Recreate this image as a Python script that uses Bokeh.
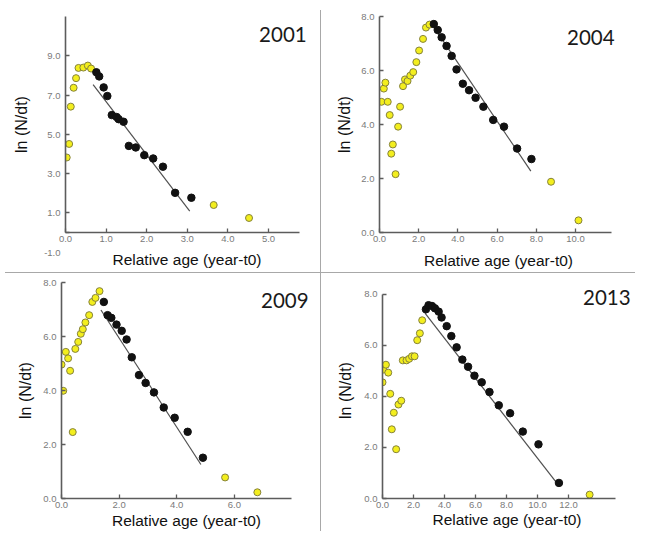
from bokeh.plotting import figure
from bokeh.models import Range1d, FixedTicker, PrintfTickFormatter, Label, Div
from bokeh.layouts import row, column
from bokeh.embed import file_html
from bokeh.resources import INLINE

# ---------------- data ----------------
# 2001
y01_x = [0.03, 0.09, 0.13, 0.20, 0.26, 0.32, 0.44, 0.55, 0.63, 3.65, 4.52]
y01_y = [3.82, 4.51, 6.41, 7.37, 7.86, 8.38, 8.40, 8.50, 8.35, 1.40, 0.74]
b01_x = [0.76, 0.83, 0.94, 1.03, 1.14, 1.26, 1.31, 1.43, 1.56, 1.73, 1.94, 2.16, 2.40, 2.70, 3.10]
b01_y = [8.16, 7.95, 7.39, 6.95, 5.98, 5.88, 5.77, 5.64, 4.41, 4.33, 3.94, 3.77, 3.35, 2.02, 1.77]
f01_x = [0.68, 3.06]
f01_y = [7.53, 1.09]

# 2004
y04_x = [0.10, 0.22, 0.30, 0.42, 0.52, 0.60, 0.68, 0.82, 0.95, 1.05, 1.20, 1.30, 1.43, 1.57,
         1.72, 1.88, 2.02, 2.22, 2.37, 2.55, 8.75, 10.15]
y04_y = [4.84, 5.33, 5.55, 4.84, 4.35, 2.92, 3.26, 2.16, 3.92, 4.66, 5.42, 5.67, 5.61, 5.81,
         5.94, 6.31, 6.74, 7.17, 7.59, 7.70, 1.88, 0.45]
b04_x = [2.77, 2.97, 3.17, 3.42, 3.68, 3.93, 4.25, 4.57, 4.90, 5.30, 5.80, 6.35, 7.02, 7.75]
b04_y = [7.72, 7.50, 7.23, 6.91, 6.54, 6.04, 5.51, 5.27, 4.99, 4.66, 4.17, 3.92, 3.11, 2.72]
f04_x = [2.72, 7.72]
f04_y = [7.66, 2.27]

# 2009
y09_x = [0.00, 0.06, 0.15, 0.23, 0.30, 0.39, 0.48, 0.58, 0.67, 0.74, 0.83, 0.96, 1.07, 1.18, 1.32,
         5.68, 6.80]
y09_y = [4.96, 3.99, 5.43, 5.19, 4.73, 2.46, 5.54, 5.80, 6.10, 6.27, 6.52, 6.79, 7.28, 7.43, 7.68,
         0.78, 0.23]
b09_x = [1.47, 1.60, 1.73, 1.91, 2.09, 2.26, 2.44, 2.69, 2.92, 3.21, 3.55, 3.93, 4.38, 4.91]
b09_y = [7.28, 6.79, 6.69, 6.44, 6.21, 5.89, 5.23, 4.57, 4.28, 3.93, 3.37, 2.99, 2.47, 1.51]
f09_x = [1.37, 4.84]
f09_y = [6.98, 1.26]

# 2013
y13_x = [0.00, 0.06, 0.22, 0.37, 0.50, 0.60, 0.73, 0.88, 1.03, 1.21, 1.31, 1.55, 1.72, 1.90,
         2.07, 2.24, 2.41, 2.56, 13.36]
y13_y = [4.55, 5.05, 5.24, 4.93, 4.10, 2.71, 3.36, 1.93, 3.68, 3.83, 5.41, 5.41, 5.47, 5.57,
         5.57, 6.20, 6.47, 6.98, 0.15]
b13_x = [2.80, 2.97, 3.19, 3.38, 3.62, 3.81, 4.14, 4.44, 4.78, 5.15, 5.52, 5.93, 6.40, 6.90,
         7.50, 8.23, 9.05, 10.06, 11.38]
b13_y = [7.41, 7.57, 7.54, 7.45, 7.32, 7.09, 6.75, 6.36, 5.92, 5.44, 5.16, 4.81, 4.55, 4.17,
         3.65, 3.34, 2.62, 2.12, 0.61]
f13_x = [2.74, 11.31]
f13_y = [7.26, 0.55]

xticks01 = [0, 1, 2, 3, 4, 5]
yticks01 = [0, 1, 3, 5, 7, 9]
xticks04 = [0, 2, 4, 6, 8, 10]
xticks09 = [0, 2, 4, 6]
xticks13 = [0, 2, 4, 6, 8, 10, 12]
yticks_std = [0, 2, 4, 6, 8]

XLABEL = "Relative age (year-t0)"
YLABEL = "ln (N/dt)"

AXIS_COLOR = "#5c5c5c"
TICKLAB_COLOR = "#7a7a7a"
YELLOW_FILL = "#f3ee1e"
YELLOW_LINE = "#85823a"


def make_panel(w, h, xr, yr, xb, yb, xt, yt, ml, mr, mt, mb, x_std, y_std,
               title, tx, ty):
    p = figure(width=w, height=h, x_range=Range1d(*xr), y_range=Range1d(*yr),
               output_backend="svg", toolbar_location=None,
               min_border_left=ml, min_border_right=mr,
               min_border_top=mt, min_border_bottom=mb)
    p.xgrid.visible = False
    p.ygrid.visible = False
    p.outline_line_color = None
    p.background_fill_color = "white"
    p.border_fill_color = "white"
    for ax, ticks, bnds in ((p.xaxis[0], xt, xb), (p.yaxis[0], yt, yb)):
        ax.ticker = FixedTicker(ticks=ticks, minor_ticks=[])
        ax.formatter = PrintfTickFormatter(format="%.1f")
        ax.bounds = bnds
        ax.axis_line_color = AXIS_COLOR
        ax.axis_line_width = 1.6
        ax.major_tick_line_color = AXIS_COLOR
        ax.major_tick_line_width = 1.3
        ax.major_tick_in = 4
        ax.major_tick_out = 0
        ax.minor_tick_line_color = None
        ax.major_label_text_font = "Liberation Sans"
        ax.major_label_text_font_size = "9.5px"
        ax.major_label_text_color = TICKLAB_COLOR
        ax.axis_label_text_font = "Liberation Sans"
        ax.axis_label_text_font_style = "normal"
        ax.axis_label_text_color = "#111111"
    p.xaxis[0].axis_label_text_font_size = "15.5px"
    p.yaxis[0].axis_label_text_font_size = "16px"
    p.xaxis[0].axis_label = XLABEL
    p.yaxis[0].axis_label = YLABEL
    p.xaxis[0].major_label_standoff = 3
    p.yaxis[0].major_label_standoff = 5
    p.xaxis[0].axis_label_standoff = x_std
    p.yaxis[0].axis_label_standoff = y_std
    p.add_layout(Label(x=tx, y=ty, text=title, text_align="right",
                       text_baseline="alphabetic", text_font="Lato",
                       text_font_size="20.5px", text_color="#1a1a1a"))
    return p


def add_series(p, yx, yy, bx, by, fx, fy):
    p.line(fx, fy, line_color="#505050", line_width=1.2)
    p.scatter(yx, yy, marker="circle", size=7, fill_color=YELLOW_FILL,
              line_color=YELLOW_LINE, line_width=1)
    p.scatter(bx, by, marker="circle", size=7.5, fill_color="#111111",
              line_color="#111111", line_width=1)


W1, W2 = 320, 324
H1, H2 = 272, 261

# Panel 2001 : frame x 65..308, y 15..232
p1 = make_panel(W1, H1, (0, 5.985), (0, 11), (0, 5.77), (0, 11), xticks01, yticks01,
                65, 12, 15, 40, 6, 11, "2001", 5.94, 10.1)
p1.yaxis[0].major_label_overrides = {0: "\n\n\n-1.0"}
add_series(p1, y01_x, y01_y, b01_x, b01_y, f01_x, f01_y)

# Panel 2004 : frame x 58..296, y 16..233
p2 = make_panel(W2, H1, (0, 12.14), (0, 8), (0, 11.84), (0, 8), xticks04, yticks_std,
                58, 28, 16, 39, 7, 5, "2004", 11.99, 7.23)
add_series(p2, y04_x, y04_y, b04_x, b04_y, f04_x, f04_y)

# Panel 2009 : frame x 61..311, y 9..225
p3 = make_panel(W1, H2, (0, 8.68), (0, 8), (0, 8), (0, 8), xticks09, yticks_std,
                61, 9, 9, 36, 1, 6, "2009", 8.58, 7.35)
add_series(p3, y09_x, y09_y, b09_x, b09_y, f09_x, f09_y)

# Panel 2013 : frame x 61..310, y 7..228
p4 = make_panel(W2, H2, (0, 16.06), (0, 8.46), (0, 15), (0, 8), xticks13, yticks_std,
                61, 14, 7, 33, 0, 7, "2013", 16.0, 7.89)
add_series(p4, y13_x, y13_y, b13_x, b13_y, f13_x, f13_y)

SEP = "#a8a8a8"
v1 = Div(width=1, height=H1 - 10, margin=(10, 0, 0, 0), styles={"background-color": SEP})
v2 = Div(width=1, height=H2 - 3, margin=(0, 0, 3, 0), styles={"background-color": SEP})
hsep = Div(width=630, height=1, margin=(0, 0, 0, 5), styles={"background-color": SEP})

layout = column(row(p1, v1, p2, spacing=0), hsep, row(p3, v2, p4, spacing=0), spacing=0)

open("out.html", "w").write(file_html(layout, INLINE))
